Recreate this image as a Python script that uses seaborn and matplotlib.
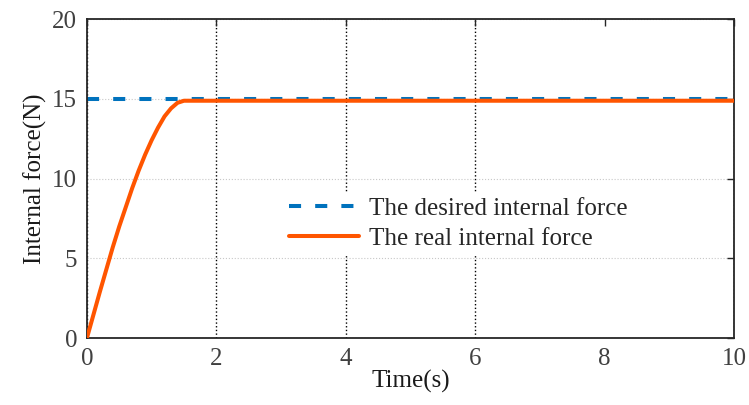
import seaborn as sns
import matplotlib.pyplot as plt
import pandas as pd

# data
time_real = [0, 0.1, 0.2, 0.3, 0.4, 0.5, 0.6, 0.7, 0.8, 0.9, 1.0, 1.1, 1.2, 1.3, 1.4, 1.5, 2, 10]
force_real = [0, 1.45, 2.9, 4.3, 5.7, 7.0, 8.2, 9.4, 10.5, 11.5, 12.4, 13.2, 13.9, 14.4, 14.75, 14.88, 14.88, 14.88]
time_desired = [0, 10]
force_desired = [15, 15]
x_ticks = [0, 2, 4, 6, 8, 10]
y_ticks = [0, 5, 10, 15, 20]

sns.set_theme(style="white")
plt.rcParams["font.family"] = ["Liberation Serif", "DejaVu Serif"]

df_real = pd.DataFrame({"t": time_real, "f": force_real})
df_des = pd.DataFrame({"t": time_desired, "f": force_desired})

fig = plt.figure(figsize=(7.49, 4.05), dpi=100)
ax = fig.add_axes([0.116, 0.165, 0.864, 0.788])

sns.lineplot(data=df_des, x="t", y="f", ax=ax, color="#0072BD", lw=2.9,
             label="The desired internal force", zorder=2)
ax.lines[-1].set_dashes((3, 3.5))
sns.lineplot(data=df_real, x="t", y="f", ax=ax, color="#FF5500", lw=2.9,
             label="The real internal force", zorder=3)

ax.set_xlim(0, 10)
ax.set_ylim(0, 20)
ax.set_xticks(x_ticks)
ax.set_yticks(y_ticks)
ax.tick_params(direction="in", top=True, right=True, length=5, width=1,
               labelsize=18, labelcolor="#404040", color="#262626", pad=7)

# grid like the original: dark dotted vertical lines, light dotted horizontal
ax.grid(axis="x", color="black", linestyle=":", linewidth=1.0)
ax.grid(axis="y", color="#c8c8c8", linestyle=":", linewidth=0.8)
ax.get_xgridlines()[4].set_visible(False)
ax.set_axisbelow(True)

for s in ax.spines.values():
    s.set_color("#262626")
    s.set_linewidth(1.3)

ax.set_xlabel("Time(s)", fontsize=18, labelpad=0, color="#1a1a1a")
ax.set_ylabel("Internal force(N)", fontsize=18, labelpad=4, color="#1a1a1a")

leg = ax.legend(loc="center left", bbox_to_anchor=(0.285, 0.36), frameon=True,
                fontsize=18, handlelength=2.8, handletextpad=0.4,
                labelspacing=0.3, borderpad=0.2, fancybox=False)
leg.get_frame().set_facecolor("white")
leg.get_frame().set_edgecolor("none")
leg.get_frame().set_alpha(1)

fig.savefig("out.png", dpi=100)
